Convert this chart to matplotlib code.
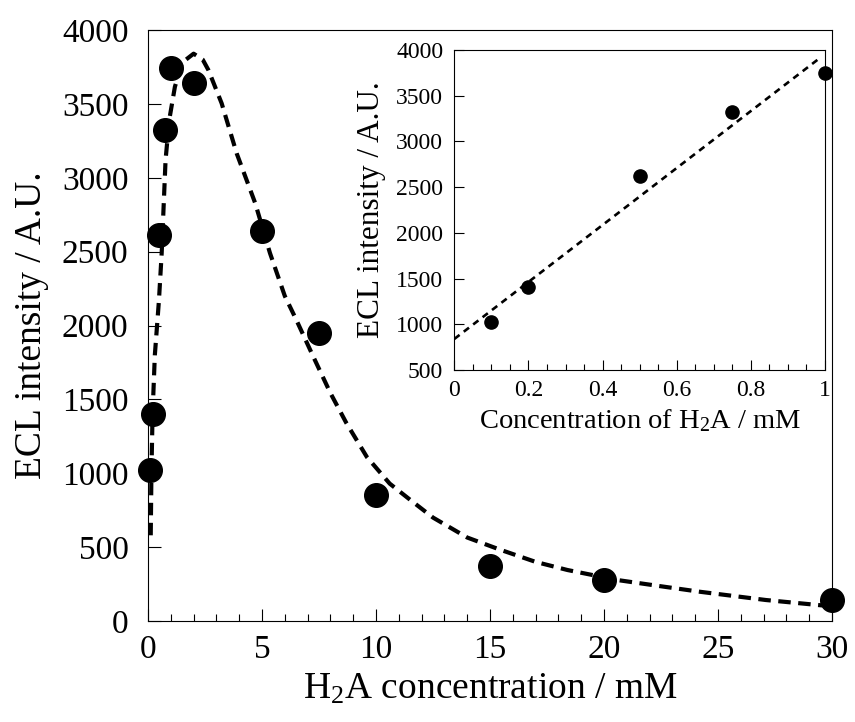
import matplotlib
matplotlib.use("Agg")
import matplotlib.pyplot as plt
from matplotlib.ticker import MultipleLocator, FuncFormatter

plt.rcParams["font.family"] = ["Liberation Serif", "DejaVu Serif"]
plt.rcParams["mathtext.fontset"] = "custom"
plt.rcParams["mathtext.rm"] = "Liberation Serif"
plt.rcParams["mathtext.it"] = "Liberation Serif:italic"

# measured points (main and inset share the low-concentration ones)
conc = [0.1, 0.2, 0.5, 0.75, 1.0, 2.0, 5.0, 7.5, 10.0, 15.0, 20.0, 30.0]
ecl = [1025, 1400, 2615, 3320, 3740, 3640, 2640, 1950, 850, 370, 280, 145]

# dashed guide curve
fit_x = [0.12, 0.15, 0.2, 0.3, 0.48, 0.6, 0.77, 0.93, 1.18, 1.5, 2.0, 2.4,
         2.65, 3.23, 3.89, 4.7, 5.35, 6.0, 6.5, 7.25, 8.0, 8.7, 9.6, 10.6,
         11.5, 12.5, 14.0, 15.4, 17.0, 18.4, 20.6, 22.5, 24.2, 27.1, 29.6]
fit_y = [580, 1000, 1400, 1800, 2170, 2490, 3120, 3390, 3616, 3780, 3840, 3800,
         3729, 3504, 3165, 2829, 2490, 2200, 2040, 1789, 1543, 1340, 1110, 930,
         820, 700, 565, 485, 400, 345, 277, 235, 198, 142, 105]

# inset: linear region
ins_x = [0.1, 0.2, 0.5, 0.75, 1.0]
ins_y = [1028, 1404, 2620, 3322, 3745]
ins_fit_x = [0.0, 0.99]
ins_fit_y = [840, 3925]

fig = plt.figure(figsize=(8.55, 7.22), dpi=100)
ax = fig.add_axes([0.1731, 0.1399, 0.8, 0.8185])

ax.plot(fit_x, fit_y, color="black", lw=3, ls=(0, (3, 1.8)), zorder=2)
ax.plot(conc, ecl, "o", color="black", ms=17, clip_on=False, zorder=3)

ax.set_xlim(0, 30)
ax.set_ylim(0, 4000)
ax.xaxis.set_major_locator(MultipleLocator(5))
ax.xaxis.set_minor_locator(MultipleLocator(1))
ax.yaxis.set_major_locator(MultipleLocator(500))
ax.tick_params(which="major", direction="in", length=9, width=0.8, labelsize=24, pad=10)
ax.tick_params(which="minor", direction="in", length=5, width=0.8)
ax.tick_params(axis="y", pad=14)
for s in ax.spines.values():
    s.set_linewidth(0.8)

ax.set_xlabel("H$_2$A concentration / mM", fontsize=27, labelpad=5)
ax.set_ylabel("ECL intensity / A.U.", fontsize=27, labelpad=9)

# inset
axi = fig.add_axes([0.5314, 0.4875, 0.4335, 0.4432])
axi.plot(ins_fit_x, ins_fit_y, color="black", lw=1.9, ls=(0, (2.5, 2)), zorder=2)
axi.plot(ins_x, ins_y, "o", color="black", ms=9.5, clip_on=False, zorder=3)
axi.set_xlim(0, 1)
axi.set_ylim(500, 4000)
axi.xaxis.set_major_locator(MultipleLocator(0.2))
axi.xaxis.set_minor_locator(MultipleLocator(0.05))
axi.yaxis.set_major_locator(MultipleLocator(500))
axi.xaxis.set_major_formatter(FuncFormatter(lambda v, p: f"{v:g}"))
axi.tick_params(which="major", direction="in", length=7, width=0.8, labelsize=17, pad=7)
axi.tick_params(axis="y", pad=8)
axi.tick_params(which="minor", direction="in", length=4, width=0.8)
for s in axi.spines.values():
    s.set_linewidth(0.8)
axi.set_xlabel("Concentration of H$_2$A / mM", fontsize=20.5, labelpad=5)
axi.set_ylabel("ECL intensity / A.U.", fontsize=22.5, labelpad=7)

fig.savefig("out.png", dpi=100)
